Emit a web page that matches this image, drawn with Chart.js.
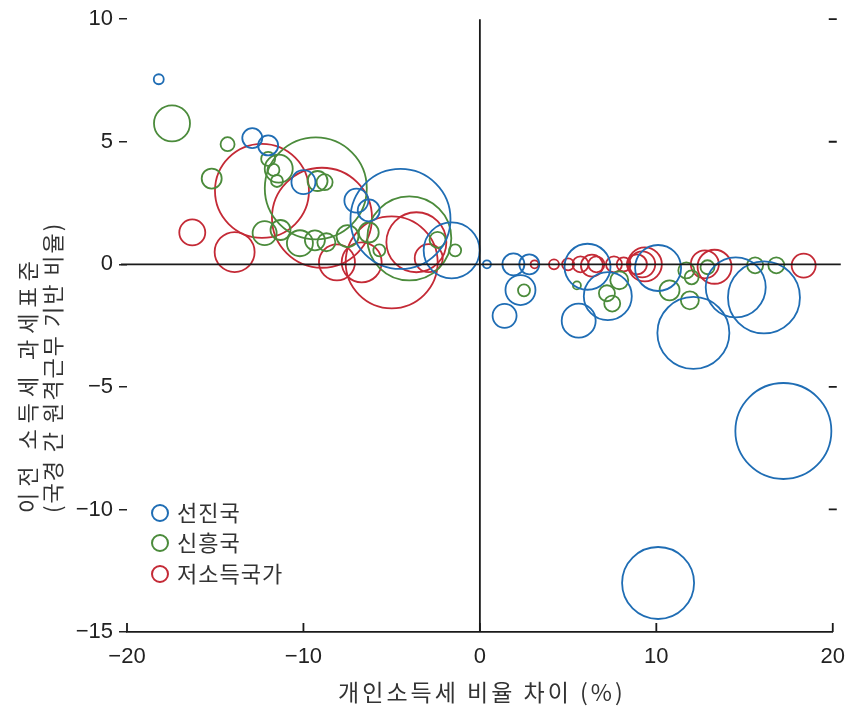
<!DOCTYPE html>
<html><head><meta charset="utf-8">
<script src="https://cdn.jsdelivr.net/npm/chart.js@4/dist/chart.umd.min.js"></script>
<style>html,body{margin:0;padding:0;background:#fff}#wrap{width:849px;height:712px;position:relative}</style>
</head><body><div id="wrap"><canvas id="c" width="849" height="712"></canvas></div>
<script>
// ---- data ----
const seriesNames = ['선진국', '신흥국', '저소득국가'];

const advX = [-18.2, -12.9, -12.0, -10.0, -7.0, -6.3, -4.5, -1.6, 0.4, 1.9, 2.8, 2.3, 1.4, 5.6, 6.1, 7.25, 10.1, 12.1, 14.5, 16.1, 17.2, 10.1];
const advY = [7.55, 5.15, 4.85, 3.35, 2.6, 2.2, 1.85, 0.57, 0, 0, 0, -1.05, -2.1, -2.3, -0.1, -1.3, -0.15, -2.8, -0.94, -1.35, -6.8, -13.0];
const advR = [5, 10, 10, 12, 12, 11, 50, 28, 4, 11, 10, 15, 12, 17, 23, 24, 23, 36, 30, 36, 48, 36];

const emgX = [-17.45, -14.3, -15.2, -9.3, -11.4, -12.0, -11.7, -11.5, -9.2, -8.8, -12.2, -11.3, -10.2, -9.35, -8.7, -7.5, -6.3, -5.7, -4.0, -2.4, -1.4, 2.5, 5.5, 7.2, 7.5, 7.9, 10.75, 11.7, 11.9, 12.0, 12.9, 15.6, 16.8];
const emgY = [5.75, 4.9, 3.5, 3.1, 3.9, 4.3, 3.85, 3.4, 3.4, 3.35, 1.27, 1.4, 0.86, 0.98, 0.9, 1.15, 1.3, 0.57, 1.06, 1.0, 0.57, -1.06, -0.86, -1.18, -1.6, -0.65, -1.06, -0.25, -1.47, -0.53, -0.12, -0.04, -0.04];
const emgR = [18, 7, 10, 51, 14, 7, 6, 6, 10, 8, 12, 10, 13, 10, 9, 11, 10, 6, 42, 8, 6, 6, 4, 8, 8, 9, 10, 8, 9, 7, 7, 8, 8];

const lowX = [-16.3, -13.9, -12.35, -8.95, -8.1, -6.7, -5.0, -3.6, -2.9, 3.1, 4.2, 5.0, 5.7, 6.35, 6.6, 7.6, 8.15, 8.9, 9.2, 9.35, 12.75, 13.3, 18.35];
const lowY = [1.3, 0.5, 3.0, 1.9, 0.08, 0.08, 0.08, 0.9, 0.25, 0, 0, 0, 0, -0.05, 0, 0, 0, 0, 0, 0, 0, -0.1, -0.05];
const lowR = [13, 20, 47, 50, 18, 20, 46, 30, 14, 4, 5, 6, 8, 11, 8, 8, 7, 10, 13, 17, 14, 17, 12];

const xTicks = [-20, -10, 0, 10, 20];
const yTicks = [10, 5, 0, -5, -10, -15];
const xTitle = '개인소득세 비율 차이 (%)';
const yTitleLines = ['이전 소득세 과세표준', '(국경 간 원격근무 기반 비율)'];

// ---- styles ----
const colors = ['#1f6db4', '#4b8b3b', '#c42a36'];
const TICK_FONT = '"Liberation Sans Narrow", "Liberation Sans", Arial, sans-serif';
const KO_FONT = '"Noto Sans CJK KR", "Noto Sans", sans-serif';

function pts(xs, ys, rs) { return xs.map((x, i) => ({ x: x, y: ys[i], r: rs[i] })); }
function fmt(v) { return v < 0 ? '\u2212' + Math.abs(v) : String(v); }

const series = [pts(advX, advY, advR), pts(emgX, emgY, emgR), pts(lowX, lowY, lowR)];

const decor = {
  id: 'decor',
  afterDatasetsDraw(chart) {
    const ctx = chart.ctx, xs = chart.scales.x, ys = chart.scales.y;
    const x0 = xs.getPixelForValue(0), y0 = ys.getPixelForValue(0);
    ctx.save();
    ctx.strokeStyle = '#1a1a1a';
    ctx.lineWidth = 1.8;
    ctx.beginPath();
    ctx.moveTo(xs.left - 6, y0); ctx.lineTo(xs.right + 8, y0);
    ctx.moveTo(x0, ys.top); ctx.lineTo(x0, ys.bottom);
    ctx.stroke();
    ctx.beginPath();
    xTicks.forEach(v => { const p = xs.getPixelForValue(v); ctx.moveTo(p, ys.bottom); ctx.lineTo(p, ys.bottom - 9); });
    yTicks.forEach(v => { if (v === 0 || v === yTicks[yTicks.length - 1]) return; const p = ys.getPixelForValue(v); ctx.moveTo(xs.right - 4, p); ctx.lineTo(xs.right + 4, p); });
    ctx.stroke();
    ctx.restore();
  },
  afterDraw(chart) {
    const ctx = chart.ctx, xs = chart.scales.x;
    ctx.save();
    ctx.fillStyle = '#333';
    ctx.font = '23px ' + KO_FONT;
    ctx.letterSpacing = '3px';
    ctx.textAlign = 'center'; ctx.textBaseline = 'middle';
    ctx.fillText(xTitle, xs.getPixelForValue(0) + 2, 692);
    ctx.font = '22px ' + KO_FONT;
    ctx.textAlign = 'left';
    [28, 53].forEach((cx, i) => {
      ctx.save();
      ctx.translate(cx, 513);
      ctx.rotate(-Math.PI / 2);
      ctx.letterSpacing = i === 0 ? '6px' : '2px';
      ctx.fillText(yTitleLines[i], 0, 0);
      ctx.restore();
    });
    ctx.letterSpacing = '1px';
    const rows = [513, 543, 574];
    seriesNames.forEach((name, i) => {
      ctx.beginPath();
      ctx.strokeStyle = colors[i]; ctx.lineWidth = 2;
      ctx.arc(160, rows[i], 8, 0, Math.PI * 2);
      ctx.stroke();
      ctx.fillStyle = '#333';
      ctx.fillText(name, 177, rows[i]);
    });
    ctx.restore();
  }
};

new Chart(document.getElementById('c'), {
  type: 'bubble',
  data: {
    datasets: series.map((d, i) => ({
      label: seriesNames[i],
      data: d,
      backgroundColor: 'rgba(0,0,0,0)',
      borderColor: colors[i],
      borderWidth: 1.8,
      hoverRadius: 0,
      hoverBorderWidth: 1.8,
      clip: false
    }))
  },
  options: {
    responsive: false,
    animation: false,
    devicePixelRatio: 1,
    layout: { autoPadding: false, padding: { left: 0, right: 16, top: 19, bottom: 0 } },
    plugins: { legend: { display: false }, tooltip: { enabled: false } },
    scales: {
      x: {
        type: 'linear', min: -20, max: 20,
        afterBuildTicks: s => { s.ticks = xTicks.map(v => ({ value: v })); },
        afterFit: s => { s.height = 80; },
        grid: { display: false },
        border: { display: true, color: '#1a1a1a', width: 1.8 },
        ticks: { callback: fmt, color: '#222', font: { family: TICK_FONT, size: 22 }, padding: 4, maxRotation: 0 }
      },
      y: {
        type: 'linear', min: -15, max: 10,
        afterBuildTicks: s => { s.ticks = yTicks.map(v => ({ value: v })); },
        afterFit: s => { s.width = 127; },
        grid: { display: true, drawOnChartArea: false, drawTicks: true, tickLength: 8, color: '#222', lineWidth: 1.5 },
        border: { display: false },
        ticks: { callback: fmt, color: '#222', font: { family: TICK_FONT, size: 22 }, padding: 6 }
      }
    }
  },
  plugins: [decor]
});
</script></body></html>
